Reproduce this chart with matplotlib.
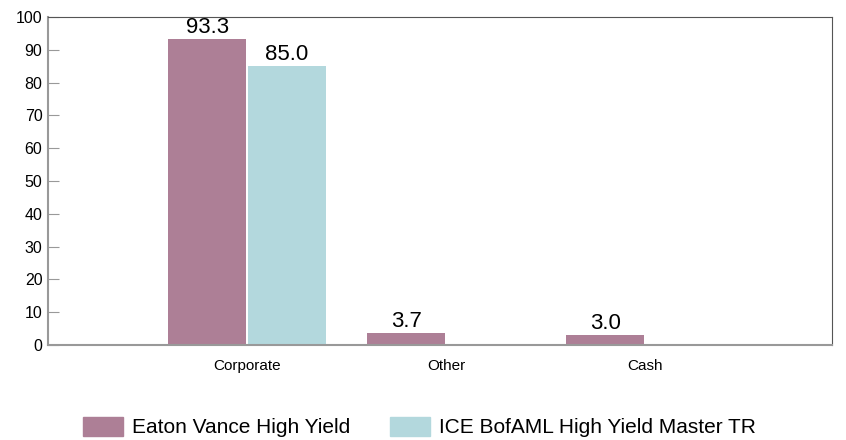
import matplotlib.pyplot as plt
import numpy as np
from matplotlib.patches import Patch

categories = ["Corporate", "Other", "Cash"]
fund = [93.3, 3.7, 3.0]
index = [85.0, 0.0, 0.0]
series_names = ["Eaton Vance High Yield", "ICE BofAML High Yield Master TR"]
yticks = list(range(0, 101, 10))

fund_color = "#ad7f96"
index_color = "#b3d8dd"
font = ["Liberation Sans", "DejaVu Sans"]

fig = plt.figure(figsize=(8.46, 4.4), dpi=100)
ax = fig.add_axes([48 / 846, 1 - 345 / 440, 784 / 846, 328 / 440])

x = np.arange(len(categories))
w = 0.39
b1 = ax.bar(x - w / 2 - 0.005, fund, width=w, color=fund_color)
b2 = ax.bar(x + w / 2 + 0.005, index, width=w, color=index_color)

# value labels above each non-empty bar
for bars, vals in [(b1, fund), (b2, index)]:
    for bar, v in zip(bars, vals):
        if v > 0:
            ax.text(bar.get_x() + bar.get_width() / 2, v + 0.3, f"{v:.1f}",
                    ha="center", va="bottom", fontsize=16, family=font)

ax.set_xlim(-1, 2.94)
ax.set_ylim(0, 100)
ax.set_yticks(yticks)
ax.set_yticklabels([str(t) for t in yticks], family=font, fontsize=11.5)
ax.set_xticks(x)
ax.set_xticklabels(categories, family=font, fontsize=11)
ax.tick_params(axis="y", direction="in", length=8, color="#999999", pad=4)
ax.tick_params(axis="x", length=0, pad=10)

for side in ["left", "bottom"]:
    ax.spines[side].set_color("#999999")
    ax.spines[side].set_linewidth(1.5)
for side in ["top", "right"]:
    ax.spines[side].set_color("#555555")
    ax.spines[side].set_linewidth(0.8)

handles = [Patch(color=fund_color), Patch(color=index_color)]
fig.legend(handles, series_names, loc="center left",
           bbox_to_anchor=(73 / 846, 1 - 427 / 440),
           ncol=2, frameon=False, borderpad=0, handlelength=1.9, handleheight=1.05,
           columnspacing=1.9, handletextpad=0.45, prop={"family": font, "size": 15})

fig.savefig("out.png", dpi=100)
